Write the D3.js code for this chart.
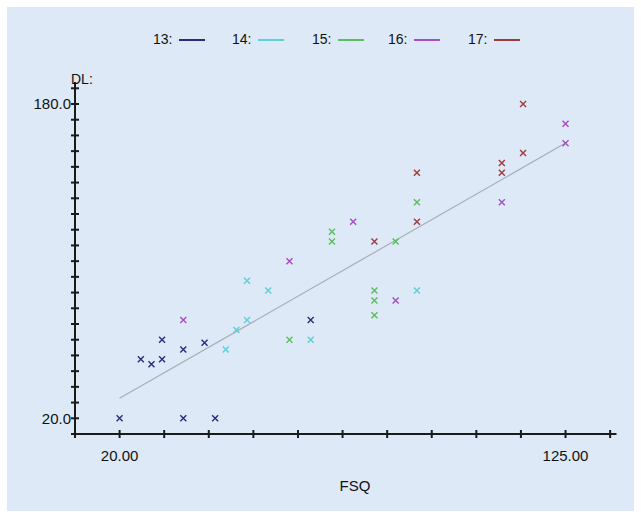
<!DOCTYPE html>
<html>
<head>
<meta charset="utf-8">
<script src="https://cdn.jsdelivr.net/npm/d3@7"></script>
<style>
  html, body { margin: 0; padding: 0; background: #fff; }
  svg { display: block; }
  text { font-family: "Liberation Sans Narrow", "Arial Narrow", "Liberation Sans", sans-serif; fill: #111; }
</style>
</head>
<body>
<svg id="chart"></svg>
<script>
// series names and colours, as in the legend
const seriesNames = ["13", "14", "15", "16", "17"];
const seriesColors = ["#2b2b7c", "#5ccfd8", "#5cbd5c", "#a64cc4", "#9e3b3b"];

// FSQ / DL values per series
const fsq13 = [20, 25, 27.5, 30, 30, 35, 40, 35, 42.5, 65];
const dl13  = [20, 50, 47.5, 50, 60, 55, 58.5, 20, 20, 70];
const fsq14 = [45, 47.5, 50, 50, 55, 65, 90];
const dl14  = [55, 65, 70, 90, 85, 60, 85];
const fsq15 = [60, 70, 70, 80, 80, 80, 85, 90];
const dl15  = [60, 115, 110, 85, 80, 72.5, 110, 130];
const fsq16 = [35, 60, 75, 85, 110, 125, 125];
const dl16  = [70, 100, 120, 80, 130, 170, 160];
const fsq17 = [80, 90, 90, 110, 110, 115, 115];
const dl17  = [110, 120, 145, 150, 145, 155, 180];

// fitted line end points
const fitFsq = [20, 125];
const fitDl  = [30.2, 160.1];

// axis labels
const xLabels = [20, 125];
const yLabels = [20, 180];

const width = 641;
const height = 518;

const svg = d3.select("#chart")
    .attr("width", width)
    .attr("height", height);

svg.append("rect")
    .attr("x", 7).attr("y", 7)
    .attr("width", width - 14).attr("height", height - 14)
    .attr("fill", "#dde9f7");

const x = d3.scaleLinear().domain([9.5, 137]).range([75, 616.5]);
const y = d3.scaleLinear().domain([12, 191.2]).range([434, 82]);

const seriesX = [fsq13, fsq14, fsq15, fsq16, fsq17];
const seriesY = [dl13, dl14, dl15, dl16, dl17];

// regression line
svg.append("line")
    .attr("x1", x(fitFsq[0])).attr("y1", y(fitDl[0]))
    .attr("x2", x(fitFsq[1])).attr("y2", y(fitDl[1]))
    .attr("stroke", "#a9aeb4")
    .attr("stroke-width", 1.2);

// axes
const axisColor = "#1a1a1a";
const xTicks = d3.range(9.5, 136, 10.5);
const yTicks = d3.range(12, 189, 8);

const xAxis = svg.append("g").attr("transform", `translate(0,${y(12)})`);
xAxis.append("line")
    .attr("x1", x(9.5)).attr("x2", x(137))
    .attr("stroke", axisColor).attr("stroke-width", 2);
xAxis.selectAll(".tk")
    .data(xTicks)
    .enter()
    .append("line")
    .attr("class", "tk")
    .attr("x1", d => x(d)).attr("x2", d => x(d))
    .attr("y1", -4).attr("y2", 4)
    .attr("stroke", axisColor).attr("stroke-width", 2);
xAxis.selectAll(".lb")
    .data(xLabels)
    .enter()
    .append("text")
    .attr("class", "lb")
    .attr("x", d => x(d))
    .attr("y", 27)
    .attr("text-anchor", "middle")
    .attr("font-size", "15px")
    .text(d => d3.format(".2f")(d));

const yAxis = svg.append("g").attr("transform", `translate(${x(9.5)},0)`);
yAxis.append("line")
    .attr("y1", y(12)).attr("y2", y(191.2))
    .attr("stroke", axisColor).attr("stroke-width", 2);
yAxis.selectAll(".tk")
    .data(yTicks)
    .enter()
    .append("line")
    .attr("class", "tk")
    .attr("y1", d => y(d)).attr("y2", d => y(d))
    .attr("x1", -4).attr("x2", 4)
    .attr("stroke", axisColor).attr("stroke-width", 2);
yAxis.selectAll(".lb")
    .data(yLabels)
    .enter()
    .append("text")
    .attr("class", "lb")
    .attr("x", -4)
    .attr("y", d => y(d))
    .attr("dy", "0.36em")
    .attr("text-anchor", "end")
    .attr("font-size", "15px")
    .text(d => d3.format(".1f")(d));

svg.append("text")
    .attr("x", 71).attr("y", 84)
    .attr("font-size", "14px")
    .text("DL:");

svg.append("text")
    .attr("x", 355).attr("y", 491)
    .attr("text-anchor", "middle")
    .attr("font-size", "15px")
    .text("FSQ");

// points
seriesNames.forEach((name, s) => {
    const pts = seriesX[s].map((v, i) => [v, seriesY[s][i]]);
    svg.append("g")
        .selectAll("path")
        .data(pts)
        .enter()
        .append("path")
        .attr("transform", d => `translate(${x(d[0])},${y(d[1])})`)
        .attr("d", "M-3,-3L3,3M-3,3L3,-3")
        .attr("stroke", seriesColors[s])
        .attr("stroke-width", 1.4)
        .attr("fill", "none");
});

// legend
const legendX = [153, 232, 312, 388, 468];
const legend = svg.append("g")
    .selectAll("g")
    .data(seriesNames)
    .enter()
    .append("g")
    .attr("transform", (d, i) => `translate(${legendX[i]},44)`);

legend.append("text")
    .attr("font-size", "14px")
    .text(d => d + ":");

legend.append("line")
    .attr("x1", 26).attr("x2", 52)
    .attr("y1", -4).attr("y2", -4)
    .attr("stroke", (d, i) => seriesColors[i])
    .attr("stroke-width", 2);
</script>
</body>
</html>
